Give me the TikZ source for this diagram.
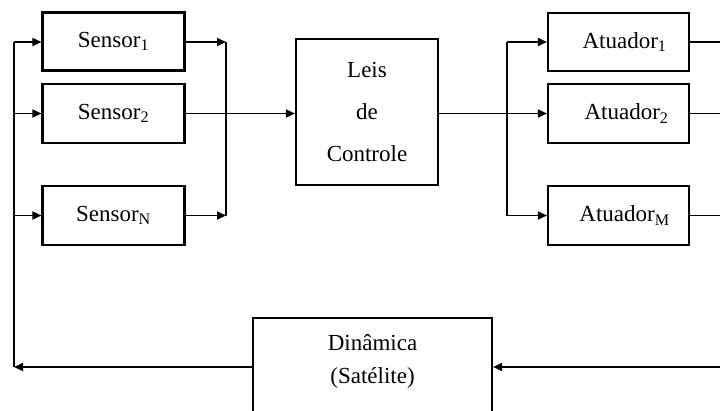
\documentclass[tikz,border=0pt]{standalone}
\usepackage{fontspec}
\setmainfont{Liberation Serif}
\usetikzlibrary{arrows.meta}
\begin{document}
\begin{tikzpicture}[x=1pt,y=-1pt,
  blk/.style={draw, line width=2.1pt, rectangle, inner sep=0pt, font=\fontsize{23}{26}\selectfont},
  ln/.style={line width=1.7pt},
  arr/.style={ln, -{Triangle[length=9pt,width=8pt]}},
  lbl/.style={inner sep=0pt, font=\fontsize{23}{26}\selectfont}]
\clip (0,0) rectangle (720,410);
\fill[white] (0,0) rectangle (720,410);
% sensors
\node[blk, minimum width=142, minimum height=58] (s1) at (113.5,41.5) {Sensor\textsubscript{1}};
\node[blk, minimum width=142, minimum height=59] (s2) at (113.5,113.5) {Sensor\textsubscript{2}};
\node[blk, minimum width=142, minimum height=59] (sn) at (113.5,215.5) {Sensor\textsubscript{N}};
% control law
\node[blk, minimum width=142, minimum height=146, align=center, font=\fontsize{23}{42}\selectfont] (leis) at (367,112) {Leis\\de\\Controle};
% actuators
\node[blk, minimum width=141, minimum height=58] (a1) at (618.5,42) {\hspace{12pt}Atuador\textsubscript{1}};
\node[blk, minimum width=141, minimum height=59] (a2) at (618.5,113.5) {\hspace{16pt}Atuador\textsubscript{2}};
\node[blk, minimum width=141, minimum height=59] (am) at (618.5,215.5) {\hspace{12pt}Atuador\textsubscript{M}};
% dynamics
\node[blk, minimum width=239, minimum height=130, anchor=north] (din) at (372.5,317) {};
\node[lbl] (dtxt) at (372.5,343) {Dinâmica};
\node[lbl] (stxt) at (372.5,378) {(Satélite)};
% coordinates
\coordinate (cl) at (14,367);
\coordinate (l1) at (14,42);
\coordinate (l2) at (14,113.5);
\coordinate (ln) at (14,215.5);
\coordinate (m1) at (226,42);
\coordinate (mn) at (226,215.5);
\coordinate (r1) at (507,42);
\coordinate (r2) at (507,113.5);
\coordinate (rm) at (507,215.5);
\coordinate (e1) at (730,42);
\coordinate (e2) at (730,113.5);
\coordinate (em) at (730,215.5);
\coordinate (ef) at (730,367);
% feedback
\draw[arr] (ef) -- (din.east |- ef);
\draw[arr] (din.west |- cl) -- (cl);
\draw[ln] (cl) -- (l1);
\draw[arr] (l1) -- (s1.west |- l1);
\draw[arr] (l2) -- (s2.west);
\draw[arr] (ln) -- (sn.west);
% sensor outputs
\draw[arr] (s1.east |- m1) -- (m1);
\draw[arr] (sn.east) -- (mn);
\draw[ln] (m1) -- (mn);
\draw[arr] (s2.east) -- (leis.west |- s2.east);
% control outputs
\draw[arr] (leis.east |- r2) -- (a2.west);
\draw[ln] (r1) -- (rm);
\draw[arr] (r1) -- (a1.west |- r1);
\draw[arr] (rm) -- (am.west);
% actuator outputs
\draw[ln] (a1.east |- e1) -- (e1);
\draw[ln] (a2.east) -- (e2);
\draw[ln] (am.east) -- (em);
\end{tikzpicture}
\end{document}
